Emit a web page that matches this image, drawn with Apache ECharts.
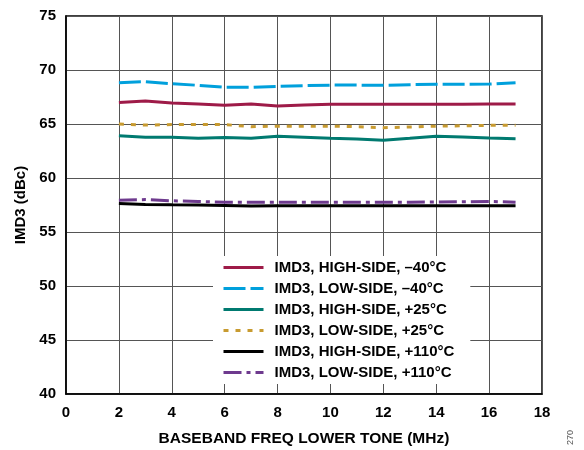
<!DOCTYPE html>
<html>
<head>
<meta charset="utf-8">
<script src="https://cdn.jsdelivr.net/npm/echarts@6/dist/echarts.min.js"></script>
<style>
html,body{margin:0;padding:0;background:#fff;}
#chart{width:584px;height:450px;}
</style>
</head>
<body>
<div id="chart"></div>
<script>
const freqMHz = [2, 3, 4, 5, 6, 7, 8, 9, 10, 11, 12, 13, 14, 15, 16, 17];
const highSideM40 = [67.0, 67.13, 66.94, 66.85, 66.73, 66.85, 66.67, 66.76, 66.82, 66.82, 66.82, 66.82, 66.82, 66.82, 66.85, 66.85];
const lowSideM40 = [68.83, 68.92, 68.73, 68.58, 68.4, 68.4, 68.49, 68.55, 68.6, 68.6, 68.58, 68.64, 68.67, 68.67, 68.7, 68.83];
const highSideP25 = [63.92, 63.77, 63.77, 63.67, 63.74, 63.67, 63.86, 63.77, 63.67, 63.6, 63.5, 63.67, 63.86, 63.8, 63.7, 63.64];
const lowSideP25 = [65.0, 64.9, 64.95, 64.95, 64.95, 64.75, 64.8, 64.8, 64.8, 64.75, 64.66, 64.72, 64.8, 64.83, 64.88, 64.88];
const highSideP110 = [57.64, 57.55, 57.52, 57.5, 57.46, 57.4, 57.42, 57.42, 57.42, 57.42, 57.42, 57.42, 57.42, 57.42, 57.42, 57.42];
const lowSideP110 = [57.95, 58.0, 57.89, 57.83, 57.76, 57.76, 57.76, 57.76, 57.76, 57.76, 57.76, 57.76, 57.78, 57.8, 57.83, 57.76];
const seriesNames = [
  'IMD3, HIGH-SIDE, \u201340°C',
  'IMD3, LOW-SIDE, \u201340°C',
  'IMD3, HIGH-SIDE, +25°C',
  'IMD3, LOW-SIDE, +25°C',
  'IMD3, HIGH-SIDE, +110°C',
  'IMD3, LOW-SIDE, +110°C'
];
const xTitle = 'BASEBAND FREQ LOWER TONE (MHz)';
const yTitle = 'IMD3 (dBc)';
const figId = '270';

const FONT = '"Liberation Sans", Arial, sans-serif';
const seriesData = [highSideM40, lowSideM40, highSideP25, lowSideP25, highSideP110, lowSideP110];
const styles = [
  {color: '#9E1B48', type: 'solid'},
  {color: '#00A0DC', type: [22, 5]},
  {color: '#007A70', type: 'solid'},
  {color: '#C89B30', type: [5, 7]},
  {color: '#000000', type: 'solid'},
  {color: '#6E3A8E', type: [18, 5, 4, 5]}
];

const chart = echarts.init(document.getElementById('chart'), null, {renderer: 'canvas'});
chart.setOption({
  animation: false,
  backgroundColor: '#fff',
  grid: {left: 66, right: 42, top: 16, bottom: 56, show: true, borderColor: '#000', borderWidth: 1.5, backgroundColor: 'transparent', containLabel: false, outerBoundsMode: 'none'},
  xAxis: {
    type: 'value', min: 0, max: 18, interval: 2,
    name: xTitle, nameLocation: 'middle', nameGap: 37,
    nameTextStyle: {fontFamily: FONT, fontWeight: 'bold', fontSize: 15.5, color: '#000'},
    axisLine: {show: true, lineStyle: {color: '#000', width: 1.5}},
    axisTick: {show: false},
    axisLabel: {fontFamily: FONT, fontWeight: 'bold', fontSize: 15, color: '#000', margin: 11},
    splitLine: {show: true, lineStyle: {color: '#555', width: 1}}
  },
  yAxis: {
    type: 'value', min: 40, max: 75, interval: 5,
    name: yTitle, nameLocation: 'middle', nameGap: 30, nameRotate: 90,
    nameTextStyle: {fontFamily: FONT, fontWeight: 'bold', fontSize: 15, color: '#000'},
    axisLine: {show: true, lineStyle: {color: '#000', width: 1.5}},
    axisTick: {show: false},
    axisLabel: {fontFamily: FONT, fontWeight: 'bold', fontSize: 15, color: '#000', margin: 10},
    splitLine: {show: true, lineStyle: {color: '#555', width: 1}}
  },
  legend: {
    show: true,
    orient: 'vertical', left: 213, top: 256,
    padding: [4, 16, 4, 9],
    backgroundColor: '#fff',
    itemWidth: 40, itemHeight: 14, itemGap: 6,
    itemStyle: {opacity: 0},
    lineStyle: {width: 3},
    textStyle: {fontFamily: FONT, fontWeight: 'bold', fontSize: 15, color: '#000', padding: [0, 0, 0, 6]},
    data: seriesNames.slice()
  },
  graphic: [{
    type: 'text', left: 566, top: 430, rotation: Math.PI / 2,
    style: {text: figId, fontFamily: FONT, fontSize: 9, fill: '#555'}
  }],
  series: seriesData.map((d, i) => ({
    name: seriesNames[i],
    type: 'line',
    data: freqMHz.map((x, j) => [x, d[j]]),
    showSymbol: false, symbol: 'none',
    itemStyle: {color: styles[i].color},
    lineStyle: {color: styles[i].color, width: 3, type: styles[i].type},
    z: 3
  }))
});
</script>
</body>
</html>
